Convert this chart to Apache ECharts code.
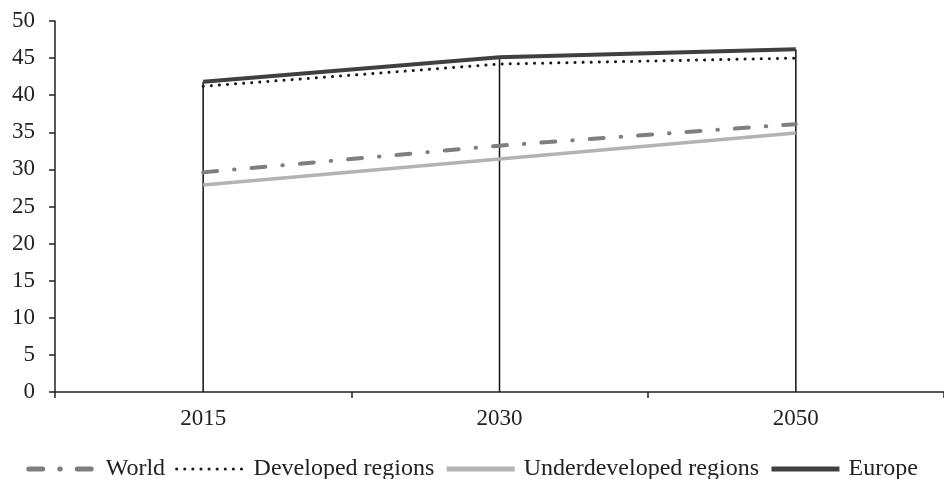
<!DOCTYPE html>
<html>
<head>
<meta charset="utf-8">
<script src="https://cdn.jsdelivr.net/npm/echarts@6/dist/echarts.min.js"></script>
<style>
  html, body { margin: 0; padding: 0; background: #fff; }
  #chart { width: 944px; height: 479px; }
</style>
</head>
<body>
<div id="chart"></div>
<script>
const years = ['2015', '2030', '2050'];
const world = [29.6, 33.2, 36.1];
const developed = [41.2, 44.2, 45.0];
const underdeveloped = [27.9, 31.4, 34.9];
const europe = [41.8, 45.1, 46.2];

document.addEventListener('DOMContentLoaded', () => {
    var chart = echarts.init(document.getElementById('chart'));
    const font = '"Liberation Serif", "Times New Roman", serif';

    const option = {
        animation: false,
        textStyle: { fontFamily: font },
        grid: { left: 55, top: 21, width: 891, height: 371 },
        legend: {
            top: 452,
            left: 'center',
            itemWidth: 68,
            itemHeight: 14,
            itemGap: 10,
            itemStyle: { opacity: 0 },
            lineStyle: { width: 'inherit' },
            textStyle: { fontFamily: font, fontSize: 24, color: '#222', padding: [0, 0, 0, 4] },
            data: [
                { name: 'World', lineStyle: { width: 5 } },
                { name: 'Developed regions', lineStyle: { width: 3 } },
                { name: 'Underdeveloped regions', lineStyle: { width: 5 } },
                { name: 'Europe', lineStyle: { width: 5 } }
            ]
        },
        xAxis: {
            type: 'category',
            data: years,
            boundaryGap: true,
            axisLine: { lineStyle: { color: '#222', width: 1.5 } },
            axisTick: { show: true, length: 6, alignWithLabel: false, lineStyle: { color: '#222', width: 1.5 } },
            axisLabel: { fontSize: 23, color: '#222', margin: 15, fontFamily: font }
        },
        yAxis: {
            type: 'value',
            min: 0,
            max: 50,
            interval: 5,
            splitLine: { show: false },
            axisLine: { show: true, lineStyle: { color: '#222', width: 1.5 } },
            axisTick: { show: true, length: 6, lineStyle: { color: '#222', width: 1.5 } },
            axisLabel: { fontSize: 23, color: '#222', margin: 20, fontFamily: font }
        },
        series: [
            {
                name: 'drop',
                type: 'bar',
                data: europe,
                barWidth: 1.5,
                itemStyle: { color: '#111' },
                z: 1,
                silent: true
            },
            {
                name: 'World',
                type: 'line',
                data: world,
                symbol: 'none',
                itemStyle: { color: '#7f7f7f' },
                lineStyle: { color: '#7f7f7f', width: 4, type: [14, 17, 0.5, 17], cap: 'round' },
                z: 3
            },
            {
                name: 'Developed regions',
                type: 'line',
                data: developed,
                symbol: 'none',
                itemStyle: { color: '#1a1a1a' },
                lineStyle: { color: '#1a1a1a', width: 3, type: [0.1, 8], cap: 'round' },
                z: 3
            },
            {
                name: 'Underdeveloped regions',
                type: 'line',
                data: underdeveloped,
                symbol: 'none',
                itemStyle: { color: '#b3b3b3' },
                lineStyle: { color: '#b3b3b3', width: 3.5 },
                z: 3
            },
            {
                name: 'Europe',
                type: 'line',
                data: europe,
                symbol: 'none',
                itemStyle: { color: '#404040' },
                lineStyle: { color: '#404040', width: 4 },
                z: 4
            }
        ]
    };

    chart.setOption(option);
    window.addEventListener('resize', () => chart.resize());
});
</script>
</body>
</html>
